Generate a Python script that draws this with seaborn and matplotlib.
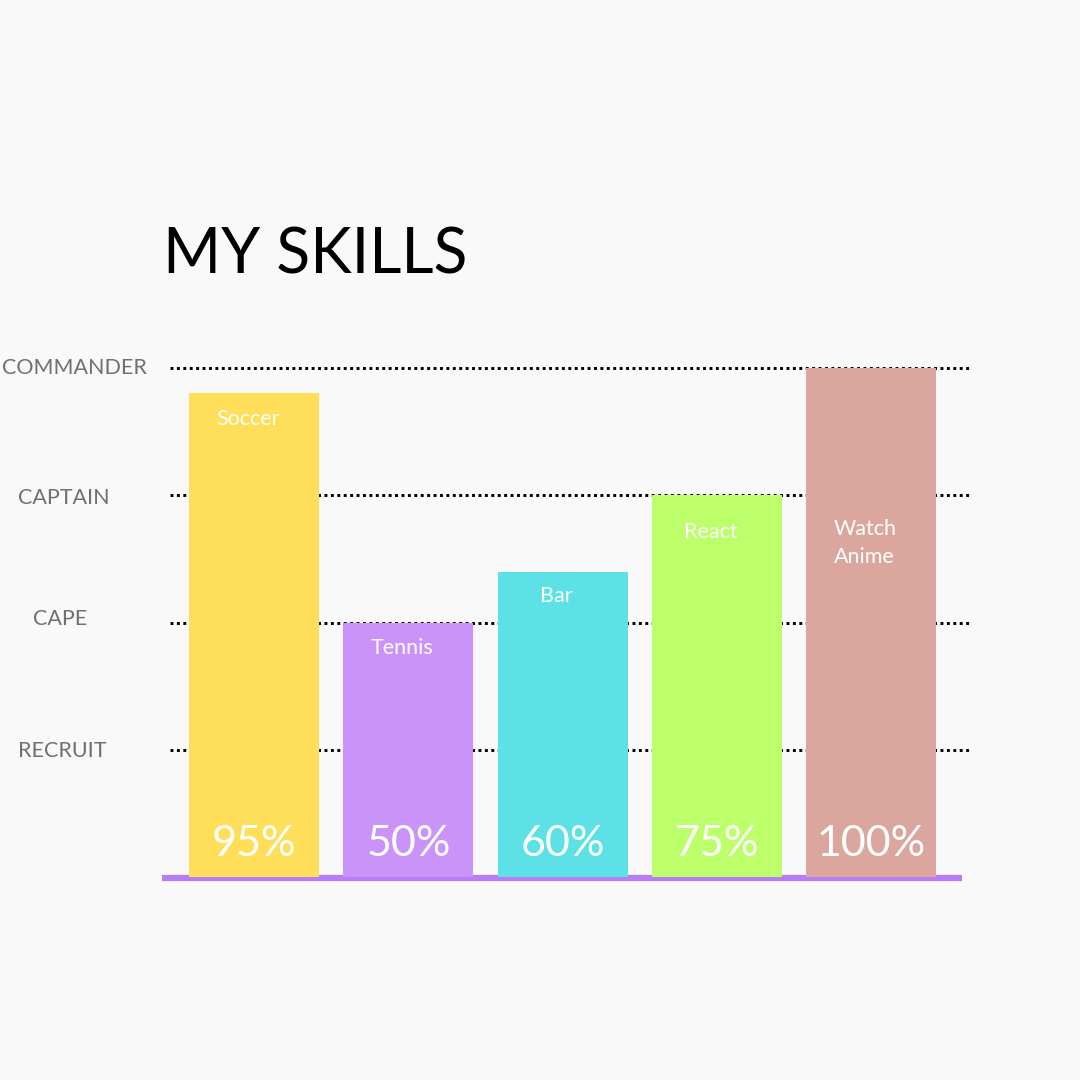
import matplotlib
matplotlib.use("Agg")
import matplotlib.pyplot as plt
import pandas as pd
import seaborn as sns

# dados
skills = ["Soccer", "Tennis", "Bar", "React", "Watch\nAnime"]
percent = [95, 50, 60, 75, 100]
colors = ["#FFDE59", "#C993F9", "#5CE1E6", "#BCFF6A", "#DBA69D"]
levels = [25, 50, 75, 100]
level_names = ["RECRUIT", "CAPE", "CAPTAIN", "COMMANDER"]

BG = "#F9F9F9"
sns.set_theme(style="white")
plt.rcParams["font.family"] = ["Lato", "DejaVu Sans"]

W = H = 1080
fig = plt.figure(figsize=(10.8, 10.8), dpi=100, facecolor=BG)

# eixo posicionado em pixels: x 162..971, y 340..885 (de cima)
left, right, top, bottom = 162, 971, 340, 885
ax = fig.add_axes([left / W, 1 - bottom / H, (right - left) / W, (bottom - top) / H])
ax.set_facecolor(BG)

pxx = 154.3   # pixels por categoria
pxy = 5.09    # pixels por ponto percentual

df = pd.DataFrame({"skill": skills, "pct": percent})

sns.barplot(data=df, x="skill", y="pct", hue="skill", palette=colors,
            width=130 / pxx, legend=False, ax=ax, saturation=1, linewidth=0,
            zorder=3)

ax.set_xlim((left - 254) / pxx, (right - 254) / pxx)
ax.set_ylim(-(bottom - 877) / pxy, (877 - top) / pxy)

# linhas pontilhadas dos niveis
for lv in levels:
    ax.axhline(lv, xmin=8 / (right - left), xmax=1, color="black", lw=2.1,
               linestyle=(0, (1, 1.2)), dash_capstyle="butt", zorder=1)

# linha de base roxa
ax.axhline(-0.1, xmin=0, xmax=(962 - left) / (right - left), color="#B87CF5",
           lw=4.5, solid_capstyle="butt", zorder=2)

label_off = [26, 25, 24, 37, 175]  # distancia do topo (px) para o nome
for i, (name, v) in enumerate(zip(skills, percent)):
    ax.text(i - 6 / pxx, v - label_off[i] / pxy, name, color="white", fontsize=15.5,
            ha="center", va="center", linespacing=1.45, multialignment="left", zorder=4)
    ax.text(i, 33 / pxy, f"{v}%", color="white", fontsize=31,
            ha="center", va="center", zorder=4)

ax.set_xticks([])
ax.set_yticks([])
ax.set_xlabel("")
ax.set_ylabel("")
for s in ax.spines.values():
    s.set_visible(False)

# rotulos dos niveis (posicao em px)
name_x = [18, 33, 18, 2]
name_y = [751, 619, 498, 368]
for nm, x, y in zip(level_names, name_x, name_y):
    fig.text(x / W, 1 - y / H, nm, color="#707070", fontsize=15.5, ha="left", va="center")

fig.text(163 / W, 1 - 256 / H, "MY SKILLS", color="black", fontsize=45,
         ha="left", va="center")

fig.savefig("out.png", dpi=100, facecolor=BG)
